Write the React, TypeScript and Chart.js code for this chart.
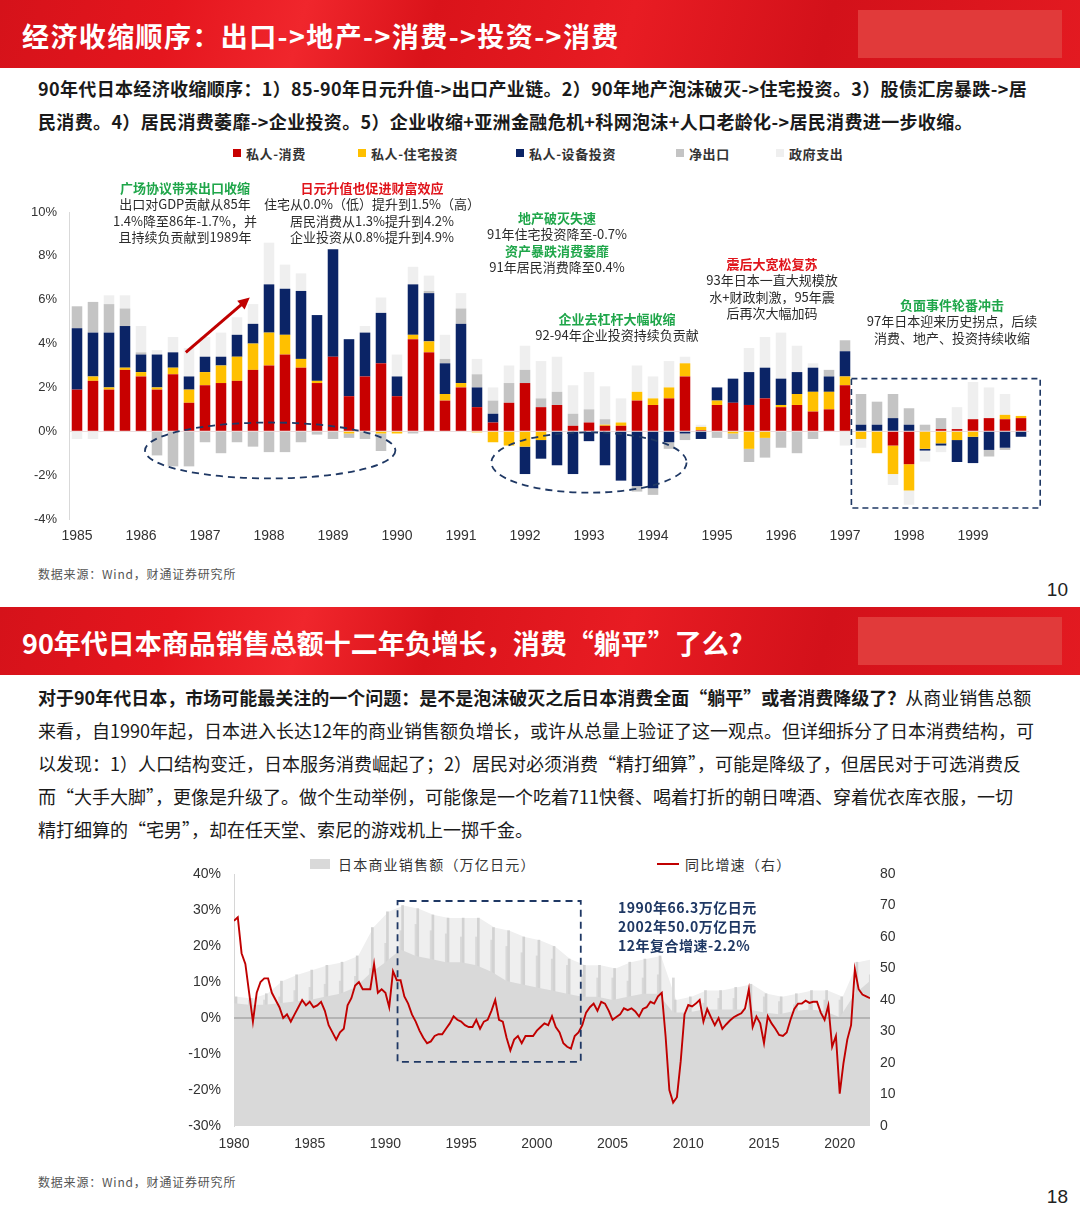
import { useEffect, useRef } from "react";
import { Chart, registerables } from "chart.js";
import type { Plugin } from "chart.js";

Chart.register(...registerables);

const CJK = '"Noto Sans CJK SC", "Noto Sans", sans-serif';
const NUM = '"Liberation Sans", Arial, sans-serif';

// ---------- slide 10: GDP contribution by component, quarterly 1985-1999 ----------
const gdpYears = ["1985", "1986", "1987", "1988", "1989", "1990", "1991", "1992", "1993", "1994", "1995", "1996", "1997", "1998", "1999"];
const gdpQuarters = gdpYears.flatMap((y) => [`${y}Q1`, `${y}Q2`, `${y}Q3`, `${y}Q4`]);

const privateConsumption = [
  1.9, 2.3, 1.9, 2.8, 2.5, 1.9, 2.6, 1.3, 2.1, 2.2, 2.3, 2.8, 3.0, 3.5, 2.9, 2.2,
  3.4, 1.6, 2.5, 3.1, 1.6, 4.2, 3.6, 1.4, 2.0, 1.1, 0.4, 1.3, 2.2, 1.1, 1.2, 0.25,
  0.4, 0.25, 0.25, 1.4, 1.2, 1.5, 2.5, 0.05, 1.2, 1.3, 1.2, 1.5, 1.1, 1.2, 0.9, 1.0,
  2.1, 0, 0, -0.65, -1.5, 0, 0.1, 0.1, 0.55, 0.6, 0.55, 0.6
];
const privateHousing = [
  0, 0.2, 0.1, 0.1, 0.2, 0.1, 0.3, 0.6, 0.6, 0.8, 1.1, 1.2, 1.5, 0.9, 0.4, 0.1,
  0, -0.1, 0, -0.1, -0.1, 0.2, 0.5, 0.3, 0.2, -0.05, -0.5, -0.65, -0.7, -0.4, 0, 0,
  0, 0.05, 0.15, 0.4, 0.3, 0.5, 0.6, 0.15, 0.2, -0.1, -0.8, -0.3, 0.1, 0.5, 0.9, 0.8,
  0.4, -0.35, -1.0, -1.3, -1.2, -0.8, -0.55, -0.4, -0.25, 0, 0.2, 0.1
];
const privateEquipment = [
  2.8, 2.0, 2.5, 1.9, 0.8, 1.5, 0.7, 0.6, 0.7, 0.4, 1.0, 0.9, 2.2, 2.1, 3.1, 3.0,
  4.9, 2.6, 2.0, 2.3, 0.9, 2.3, 2.2, 1.4, 2.7, 0.9, 0.4, 0, -1.25, -0.85, -1.55, -1.95,
  -0.45, -1.55, -2.25, -2.5, -2.6, -0.5, -0.1, -0.35, 0.6, 1.1, 1.5, 1.4, 1.2, 1.0, 1.1, 0.7,
  1.15, 0.3, 0.3, 0.6, 0.3, -0.08, -0.1, -1.0, -1.2, -0.85, -0.75, -0.25
];
const netExports = [
  1.0, 1.4, 1.3, 0.8, 0.1, -1.1, -1.6, -1.6, -0.5, -1.0, -0.5, -0.7, -0.95, -0.95, -0.5, -0.15,
  -0.35, -0.2, -0.35, -0.8, 0, -0.1, 0.1, 0.2, 0.7, 0.6, 0.6, 0.9, 0.6, 0.4, 0.6, 0.55,
  0.6, 0.25, 0, -0.25, -0.3, -0.3, -0.3, 0, -0.3, -0.25, -0.6, -0.9, -0.75, -1.0, -0.35, 0.3,
  0.5, 1.4, 1.05, 1.1, 0.75, 0.3, 0.5, 0, 0, -0.3, -0.1, 0
];
const governmentSpending = [
  -0.35, -0.35, 0.4, 0.6, 1.2, 0.2, 0.7, 1.3, 0.9, 1.1, 0.8, 0.9, 1.9, 1.1, 0.8, 0,
  0, 0, 0.3, 0.7, 1.0, 0.8, 0.7, 1.1, 0.7, 0.7, 0.6, 0.8, 1.1, 1.7, 1.6, 1.3,
  1.7, 1.5, 1.1, 1.2, 1.0, 1.2, 0.3, 0.1, 0, 0, 1.1, 1.4, 2.1, 1.2, 0.2, 0,
  -0.65, -0.4, 0, -0.5, -0.65, -0.5, -0.3, 1.0, 1.7, 1.4, 0.95, 0
];
const gdpYTicks = [-4, -2, 0, 2, 4, 6, 8, 10];

const gdpSeries = [
  { label: "私人-消费", data: privateConsumption, color: "#c80000" },
  { label: "私人-住宅投资", data: privateHousing, color: "#ffc000" },
  { label: "私人-设备投资", data: privateEquipment, color: "#0b2466" },
  { label: "净出口", data: netExports, color: "#c4c4c4" },
  { label: "政府支出", data: governmentSpending, color: "#efefef" }
];

// annotation frames, in [quarter index, percent]
const exportEllipse = { x0: 4.25, x1: 19.9, y0: 0.4, y1: -2.15 };
const investEllipse = { x0: 25.9, x1: 38.1, y0: -0.05, y1: -2.8 };
const crisisBox = { x0: 48.4, x1: 60.2, y0: 2.4, y1: -3.5 };
const yenArrow = { x0: 6.8, y0: 3.6, x1: 10.8, y1: 6.1 };

// ---------- slide 18: Japan commercial sales ----------
const salesStartYear = 1980;
// YoY growth, %, one value per quarter from 1980Q1
const salesYoY = [
  27, 28, 18, 15, 7, -1, 7, 10, 11, 11, 7, 5, 3, 0, 1, -1,
  1, 3, 5, 3.5, 4.5, 3, 3.5, 4.5, 2, -2, -4, -6, -4, -3, 3.5, 5.5,
  9, 10, 8, 8, 8, 15, 7, 8, 7, 3, 13, 10.5, 10.5, 6, 4, 1,
  -1, -3.5, -5.5, -7, -6.5, -5, -4.5, -4.5, -3, -1.5, 0.5, -0.5, -1, -2, -2.5, -2.5,
  -0.5, -3, -1, -0.5, 2, 5, -0.5, -1, -5.5, -9, -6, -5, -7, -5, -5, -5,
  -3.5, -2.5, -1.5, -2, 0.5, -2.5, -4, -7, -8, -8.5, -5, -4, -2, 1.5, 3, 4,
  2, 4.5, 4, 2, -0.5, 0.3, 1, 2.7, 2.2, 2.7, 1.8, 0.4, 2.5, 3, 4.5, 4,
  6, 7, -5, -20, -23.5, -22, -12, 1, 3.6, 3.2, 4, 5, -1, 2.5, 0.2, -2,
  0, -3, -1.8, -0.7, 0.2, 0.8, 1.3, 2.7, 8, -2.5, 0.4, -1.5, -7, 0.5, -1.5, -3,
  -4.7, -5, -4, -0.5, 2.5, 4, 4, 4.8, 4.2, 4.5, 4.5, 1.5, -0.5, 3.5, -8, -5,
  -21, -12.5, -6, -2, 13.5, 8, 6.5, 6, 5.5
];
// monthly sales, trillion yen, per year 1980-2022: usual level, March peak, December peak
const salesLevel = [
  39, 38.5, 38.5, 39, 39.5, 40, 41, 42, 44, 48.5, 52, 56, 54, 53, 52, 52, 51, 49, 46, 45, 44,
  43, 42, 41, 41, 40, 41, 42, 42, 36, 36, 37, 37, 37, 37, 36, 35.5, 36.5, 37, 36.5, 34.5, 42, 46
];
const salesMarchPeak = [
  41, 40.5, 42, 46, 48, 49.5, 51, 52, 54, 63, 68, 70, 69, 67, 66, 66, 66, 63, 62, 60, 59,
  57, 53, 51, 51, 50, 52, 53, 54, 40, 41, 43, 43, 44, 45, 42, 41, 42, 43, 43, 41, 52, 53
];
const salesDecemberPeak = [
  40, 40, 41, 43, 44, 45, 46, 47.5, 50, 58, 62, 64, 62, 61, 60, 60, 59, 57, 55, 54, 53,
  51, 48, 47, 47, 46, 47, 48, 47, 38.5, 39, 40.5, 40.5, 41, 41, 39.5, 38.5, 39.5, 40, 40, 38, 48, 50
];
const salesBox = { x0: 1990.8, x1: 2002.9, y0: 32.5, y1: -12.2 };

const legend1 = [
  { label: "私人-消费", color: "#c80000", x: 233 },
  { label: "私人-住宅投资", color: "#ffc000", x: 358 },
  { label: "私人-设备投资", color: "#0b2466", x: 516 },
  { label: "净出口", color: "#c4c4c4", x: 676 },
  { label: "政府支出", color: "#efefef", x: 776 }
];

const gdpMarks: Plugin<"bar"> = {
  id: "gdpMarks",
  afterDatasetsDraw(chart) {
    const { ctx } = chart;
    const x = chart.scales.x;
    const y = chart.scales.y;
    ctx.save();
    ctx.strokeStyle = "#1f3864";
    ctx.lineWidth = 1.8;
    ctx.setLineDash([7, 5]);
    for (const e of [exportEllipse, investEllipse]) {
      const l = x.getPixelForValue(e.x0);
      const r = x.getPixelForValue(e.x1);
      const t = y.getPixelForValue(e.y0);
      const b = y.getPixelForValue(e.y1);
      ctx.beginPath();
      ctx.ellipse((l + r) / 2, (t + b) / 2, (r - l) / 2, (b - t) / 2, 0, 0, Math.PI * 2);
      ctx.stroke();
    }
    ctx.lineWidth = 1.6;
    ctx.setLineDash([6, 4]);
    const bl = x.getPixelForValue(crisisBox.x0);
    const br = x.getPixelForValue(crisisBox.x1);
    const bt = y.getPixelForValue(crisisBox.y0);
    const bb = y.getPixelForValue(crisisBox.y1);
    ctx.strokeRect(bl, bt, br - bl, bb - bt);

    // red arrow
    const ax0 = x.getPixelForValue(yenArrow.x0);
    const ay0 = y.getPixelForValue(yenArrow.y0);
    const ax1 = x.getPixelForValue(yenArrow.x1);
    const ay1 = y.getPixelForValue(yenArrow.y1);
    const ang = Math.atan2(ay1 - ay0, ax1 - ax0);
    ctx.setLineDash([]);
    ctx.strokeStyle = "#c00000";
    ctx.fillStyle = "#c00000";
    ctx.lineWidth = 3;
    ctx.beginPath();
    ctx.moveTo(ax0, ay0);
    ctx.lineTo(ax1 - Math.cos(ang) * 8, ay1 - Math.sin(ang) * 8);
    ctx.stroke();
    ctx.beginPath();
    ctx.moveTo(ax1, ay1);
    ctx.lineTo(ax1 - Math.cos(ang - 0.45) * 13, ay1 - Math.sin(ang - 0.45) * 13);
    ctx.lineTo(ax1 - Math.cos(ang + 0.45) * 13, ay1 - Math.sin(ang + 0.45) * 13);
    ctx.closePath();
    ctx.fill();
    ctx.restore();
  }
};

function GdpChart() {
  const canvasRef = useRef<HTMLCanvasElement | null>(null);

  useEffect(() => {
    if (!canvasRef.current) {
      return undefined;
    }
    const chart = new Chart(canvasRef.current, {
      type: "bar",
      data: {
        labels: gdpQuarters,
        datasets: gdpSeries.map((s) => ({
          label: s.label,
          data: s.data,
          backgroundColor: s.color,
          borderWidth: 0,
          barPercentage: 0.66,
          categoryPercentage: 1
        }))
      },
      options: {
        responsive: true,
        maintainAspectRatio: false,
        animation: false,
        layout: { padding: { top: 12, right: 51, left: 0, bottom: 0 } },
        plugins: { legend: { display: false }, tooltip: { enabled: false } },
        scales: {
          x: {
            stacked: true,
            grid: { display: false, drawTicks: false },
            border: { display: false },
            ticks: {
              autoSkip: false,
              maxRotation: 0,
              padding: 9,
              color: "#333",
              font: { family: NUM, size: 14 },
              callback: (_v, i) => (i % 4 === 0 ? gdpYears[i / 4] : "")
            },
            afterFit: (s) => {
              s.height = 31;
            }
          },
          y: {
            stacked: true,
            min: -4,
            max: 10,
            afterBuildTicks: (s) => {
              s.ticks = gdpYTicks.map((v) => ({ value: v }));
            },
            ticks: {
              padding: 0,
              color: "#333",
              font: { family: NUM, size: 13 },
              callback: (v) => `${v}%`
            },
            grid: {
              drawTicks: true,
              tickLength: 12,
              tickColor: "rgba(0,0,0,0)",
              color: (c) => (c.tick && c.tick.value === 0 ? "#ecdcdc" : "rgba(0,0,0,0)")
            },
            border: { display: true, color: "#d9d9d9" },
            afterFit: (s) => {
              s.width = 69;
            }
          }
        }
      },
      plugins: [gdpMarks]
    });
    return () => chart.destroy();
  }, []);

  return (
    <div style={{ position: "absolute", left: 0, top: 200, width: 1080, height: 350 }}>
      <canvas ref={canvasRef} />
    </div>
  );
}

const salesMarks: Plugin<"line"> = {
  id: "salesMarks",
  beforeDatasetDraw(chart, args) {
    if (args.index !== 0) return;
    const { ctx, chartArea } = chart;
    const y = chart.scales.y;
    const zero = y.getPixelForValue(0);
    ctx.save();
    ctx.strokeStyle = "#8f8f8f";
    ctx.lineWidth = 1;
    ctx.beginPath();
    ctx.moveTo(chartArea.left, zero);
    ctx.lineTo(chartArea.right, zero);
    ctx.stroke();
    ctx.restore();
  },
  afterDatasetsDraw(chart) {
    const { ctx } = chart;
    const x = chart.scales.x;
    const y = chart.scales.y;
    const l = x.getPixelForValue(salesBox.x0);
    const r = x.getPixelForValue(salesBox.x1);
    const t = y.getPixelForValue(salesBox.y0);
    const b = y.getPixelForValue(salesBox.y1);
    ctx.save();
    ctx.strokeStyle = "#1f3864";
    ctx.lineWidth = 1.8;
    ctx.setLineDash([7, 5]);
    ctx.strokeRect(l, t, r - l, b - t);
    ctx.restore();
  }
};

function SalesChart() {
  const canvasRef = useRef<HTMLCanvasElement | null>(null);

  useEffect(() => {
    if (!canvasRef.current) {
      return undefined;
    }
    const yoyPoints = salesYoY.map((v, i) => ({ x: salesStartYear + i / 4, y: v }));
    const levelPoints = salesLevel.map((v, i) => ({ x: salesStartYear + i, y: v }));
    const marchPoints = salesMarchPeak.map((v, i) => ({ x: salesStartYear + i + 0.2, y: v }));
    const decemberPoints = salesDecemberPeak.map((v, i) => ({ x: salesStartYear + i + 0.95, y: v }));

    const spike = (label: string, data: { x: number; y: number }[], color: string) => ({
      type: "bar" as const,
      label,
      data,
      yAxisID: "y2",
      backgroundColor: color,
      borderWidth: 0,
      barThickness: 2
    });

    const chart = new Chart(canvasRef.current, {
      type: "line",
      data: {
        datasets: [
          {
            label: "同比增速（右）",
            data: yoyPoints,
            yAxisID: "y",
            borderColor: "#c00000",
            borderWidth: 1.9,
            pointRadius: 0,
            tension: 0,
            fill: false
          },
          {
            label: "日本商业销售额（万亿日元）",
            data: levelPoints,
            yAxisID: "y2",
            borderWidth: 0,
            borderColor: "rgba(0,0,0,0)",
            backgroundColor: "#d9d9d9",
            pointRadius: 0,
            fill: "start"
          },
          spike("三月", marchPoints, "#d2d2d2"),
          spike("十二月", decemberPoints, "#d9d9d9"),
          {
            label: "区间",
            data: marchPoints,
            yAxisID: "y2",
            borderWidth: 0,
            borderColor: "rgba(0,0,0,0)",
            backgroundColor: "#efefef",
            pointRadius: 0,
            fill: "start"
          }
        ]
      },
      options: {
        responsive: true,
        maintainAspectRatio: false,
        animation: false,
        layout: { padding: { top: 14, right: 0, left: 0, bottom: 0 } },
        plugins: { legend: { display: false }, tooltip: { enabled: false } },
        scales: {
          x: {
            type: "linear",
            min: 1980,
            max: 2022,
            offset: false,
            grid: { display: false, drawTicks: false },
            border: { display: false },
            ticks: {
              stepSize: 5,
              includeBounds: false,
              padding: 10,
              maxRotation: 0,
              color: "#333",
              font: { family: NUM, size: 14 },
              callback: (v) => String(v)
            },
            afterFit: (s) => {
              s.height = 30;
            }
          },
          y: {
            position: "left",
            min: -30,
            max: 40,
            ticks: {
              stepSize: 10,
              padding: 0,
              color: "#333",
              font: { family: NUM, size: 14 },
              callback: (v) => `${v}%`
            },
            grid: { display: false, drawTicks: true, tickLength: 13 },
            border: { display: true, color: "#d6d6d6" },
            afterFit: (s) => {
              s.width = 234;
            }
          },
          y2: {
            position: "right",
            min: 0,
            max: 80,
            ticks: {
              stepSize: 10,
              padding: 0,
              color: "#333",
              font: { family: NUM, size: 14 }
            },
            grid: { display: false, drawTicks: true, tickLength: 10 },
            border: { display: false },
            afterFit: (s) => {
              s.width = 210;
            }
          }
        }
      },
      plugins: [salesMarks]
    });
    return () => chart.destroy();
  }, []);

  return (
    <div style={{ position: "absolute", left: 0, top: 860, width: 1080, height: 296 }}>
      <canvas ref={canvasRef} />
    </div>
  );
}

function Header({ top, title, spacing }: { top: number; title: string; spacing: number }) {
  return (
    <div
      style={{
        position: "absolute",
        left: 0,
        top,
        width: 1080,
        height: 68,
        overflow: "hidden",
        background:
          "linear-gradient(105deg, #d5121a 0%, #e5161e 16%, #f0262c 28%, #da131a 40%, #e81c23 58%, #d3111a 76%, #e31a21 100%)"
      }}
    >
      <div
        style={{
          position: "absolute",
          left: 858,
          top: 10,
          width: 204,
          height: 48,
          background: "#e13a3a"
        }}
      />
      <div
        style={{
          position: "absolute",
          left: 22,
          top: 2,
          height: 68,
          lineHeight: "68px",
          color: "#fff",
          fontFamily: CJK,
          fontWeight: 700,
          fontSize: 27,
          letterSpacing: spacing,
          whiteSpace: "nowrap"
        }}
      >
        {title}
      </div>
    </div>
  );
}

type NoteLine = { t: string; c?: string; b?: boolean };

function Note({ cx, top, lines }: { cx: number; top: number; lines: NoteLine[] }) {
  return (
    <div
      style={{
        position: "absolute",
        left: cx - 150,
        top,
        width: 300,
        textAlign: "center",
        fontFamily: CJK,
        fontSize: 13,
        lineHeight: "16.3px",
        whiteSpace: "nowrap"
      }}
    >
      {lines.map((l, i) => (
        <div key={i} style={{ color: l.c ?? "#2b2b2b", fontWeight: l.b ? 700 : 400 }}>
          {l.t}
        </div>
      ))}
    </div>
  );
}

const GREEN = "#1fa64a";
const RED = "#e0141b";

export default function App() {
  const bodyText = { fontFamily: CJK, fontSize: 18, color: "#1a1a1a", whiteSpace: "nowrap" as const };
  return (
    <div
      style={{
        position: "absolute",
        left: 0,
        top: 0,
        width: 1080,
        height: 1215,
        overflow: "hidden",
        background: "#fff"
      }}
    >
      {/* ---------- slide 10 ---------- */}
      <Header top={0} title="经济收缩顺序：出口->地产->消费->投资->消费" spacing={1.4} />
      <div
        style={{ ...bodyText, position: "absolute", left: 38, top: 72, fontWeight: 700, lineHeight: "33px", letterSpacing: 0.35 }}
      >
        <div>90年代日本经济收缩顺序：1）85-90年日元升值-&gt;出口产业链。2）90年地产泡沫破灭-&gt;住宅投资。3）股债汇房暴跌-&gt;居</div>
        <div>民消费。4）居民消费萎靡-&gt;企业投资。5）企业收缩+亚洲金融危机+科网泡沫+人口老龄化-&gt;居民消费进一步收缩。</div>
      </div>
      {legend1.map((l) => (
        <div
          key={l.label}
          style={{
            position: "absolute",
            left: l.x,
            top: 144,
            height: 18,
            display: "flex",
            alignItems: "center",
            fontFamily: CJK,
            fontSize: 13,
            fontWeight: 700,
            letterSpacing: 0.6,
            color: "#333",
            whiteSpace: "nowrap"
          }}
        >
          <span style={{ width: 8, height: 8, background: l.color, marginRight: 5, display: "inline-block" }} />
          {l.label}
        </div>
      ))}
      <GdpChart />
      <Note
        cx={185}
        top={180}
        lines={[
          { t: "广场协议带来出口收缩", c: GREEN, b: true },
          { t: "出口对GDP贡献从85年" },
          { t: "1.4%降至86年-1.7%，并" },
          { t: "且持续负贡献到1989年" }
        ]}
      />
      <Note
        cx={372}
        top={180}
        lines={[
          { t: "日元升值也促进财富效应", c: RED, b: true },
          { t: "住宅从0.0%（低）提升到1.5%（高）" },
          { t: "居民消费从1.3%提升到4.2%" },
          { t: "企业投资从0.8%提升到4.9%" }
        ]}
      />
      <Note
        cx={557}
        top={210}
        lines={[
          { t: "地产破灭失速", c: GREEN, b: true },
          { t: "91年住宅投资降至-0.7%" },
          { t: "资产暴跌消费萎靡", c: GREEN, b: true },
          { t: "91年居民消费降至0.4%" }
        ]}
      />
      <Note
        cx={617}
        top={311}
        lines={[
          { t: "企业去杠杆大幅收缩", c: GREEN, b: true },
          { t: "92-94年企业投资持续负贡献" }
        ]}
      />
      <Note
        cx={772}
        top={256}
        lines={[
          { t: "震后大宽松复苏", c: RED, b: true },
          { t: "93年日本一直大规模放" },
          { t: "水+财政刺激，95年震" },
          { t: "后再次大幅加码" }
        ]}
      />
      <Note
        cx={952}
        top={297}
        lines={[
          { t: "负面事件轮番冲击", c: GREEN, b: true },
          { t: "97年日本迎来历史拐点，后续" },
          { t: "消费、地产、投资持续收缩" }
        ]}
      />
      <div
        style={{
          position: "absolute",
          left: 38,
          top: 565,
          fontFamily: CJK,
          fontSize: 12,
          letterSpacing: 0.8,
          color: "#555"
        }}
      >
        数据来源：Wind，财通证券研究所
      </div>
      <div style={{ position: "absolute", right: 12, top: 579, fontFamily: NUM, fontSize: 19, color: "#222" }}>10</div>

      {/* ---------- slide 18 ---------- */}
      <Header top={607} title="90年代日本商品销售总额十二年负增长，消费“躺平”了么?" spacing={0} />
      <div style={{ ...bodyText, position: "absolute", left: 38, top: 681, lineHeight: "33px" }}>
        <div>
          <b>对于90年代日本，市场可能最关注的一个问题：是不是泡沫破灭之后日本消费全面“躺平”或者消费降级了？</b>
          从商业销售总额
        </div>
        <div>来看，自1990年起，日本进入长达12年的商业销售额负增长，或许从总量上验证了这一观点。但详细拆分了日本消费结构，可</div>
        <div>以发现：1）人口结构变迁，日本服务消费崛起了；2）居民对必须消费“精打细算”，可能是降级了，但居民对于可选消费反</div>
        <div>而“大手大脚”，更像是升级了。做个生动举例，可能像是一个吃着711快餐、喝着打折的朝日啤酒、穿着优衣库衣服，一切</div>
        <div>精打细算的“宅男”，却在任天堂、索尼的游戏机上一掷千金。</div>
      </div>
      <div
        style={{
          position: "absolute",
          left: 310,
          top: 855,
          height: 18,
          display: "flex",
          alignItems: "center",
          fontFamily: CJK,
          fontSize: 14,
          letterSpacing: 1.2,
          color: "#333",
          whiteSpace: "nowrap"
        }}
      >
        <span style={{ width: 20, height: 10, background: "#d9d9d9", marginRight: 8, display: "inline-block" }} />
        日本商业销售额（万亿日元）
      </div>
      <div
        style={{
          position: "absolute",
          left: 657,
          top: 855,
          height: 18,
          display: "flex",
          alignItems: "center",
          fontFamily: CJK,
          fontSize: 14,
          letterSpacing: 1.2,
          color: "#333",
          whiteSpace: "nowrap"
        }}
      >
        <span style={{ width: 22, height: 2, background: "#c00000", marginRight: 6, display: "inline-block" }} />
        同比增速（右）
      </div>
      <SalesChart />
      <div
        style={{
          position: "absolute",
          left: 618,
          top: 898,
          fontFamily: CJK,
          fontSize: 14,
          fontWeight: 700,
          lineHeight: "19px",
          letterSpacing: 0.5,
          color: "#1f3864",
          whiteSpace: "nowrap"
        }}
      >
        <div>1990年66.3万亿日元</div>
        <div>2002年50.0万亿日元</div>
        <div>12年复合增速-2.2%</div>
      </div>
      <div
        style={{
          position: "absolute",
          left: 38,
          top: 1173,
          fontFamily: CJK,
          fontSize: 12,
          letterSpacing: 0.8,
          color: "#555"
        }}
      >
        数据来源：Wind，财通证券研究所
      </div>
      <div style={{ position: "absolute", right: 12, top: 1186, fontFamily: NUM, fontSize: 19, color: "#222" }}>18</div>
    </div>
  );
}
